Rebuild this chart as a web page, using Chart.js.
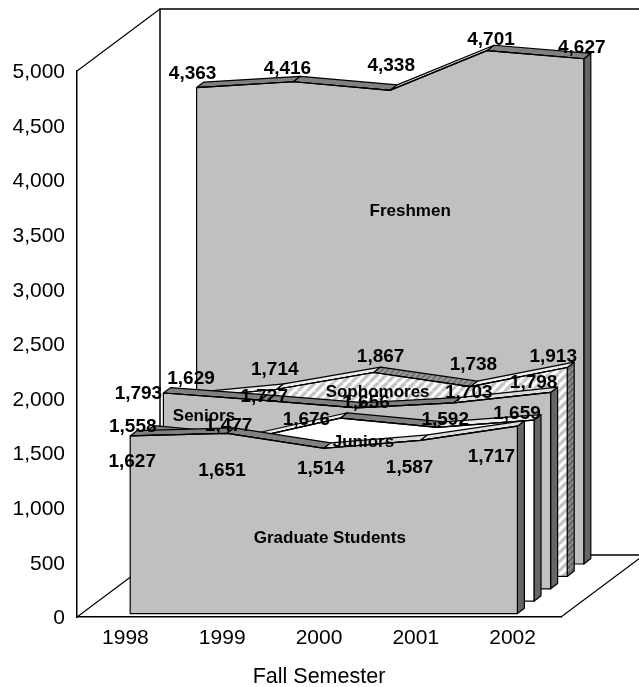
<!DOCTYPE html>
<html>
<head>
<meta charset="utf-8">
<title>Fall enrollment</title>
<style>
  html, body { margin: 0; padding: 0; background: #fff; }
  canvas { display: block; }
</style>
<script src="https://cdn.jsdelivr.net/npm/chart.js@4"></script>
</head>
<body>
<canvas id="grafico" width="639" height="687"></canvas>
<script>
const categories = ['1998', '1999', '2000', '2001', '2002'];

// front slab first, Chart.js paints index 0 last
const seriesNames = ['Graduate Students', 'Juniors', 'Seniors', 'Sophomores', 'Freshmen'];
const graduate = [1627, 1651, 1514, 1587, 1717];
const juniors = [1558, 1477, 1676, 1592, 1659];
const seniors = [1793, 1727, 1656, 1703, 1798];
const sophomores = [1629, 1714, 1867, 1738, 1913];
const freshmen = [4363, 4416, 4338, 4701, 4627];
const yTicks = [0, 500, 1000, 1500, 2000, 2500, 3000, 3500, 4000, 4500, 5000];

// 3D look: floor depth, one slot per series, slab thickness inside the slot
const DEPTH_X = 83, DEPTH_Y = 62;
const SLOT_X = DEPTH_X / 5, SLOT_Y = DEPTH_Y / 5;
const SLAB_X = 7, SLAB_Y = 5.4;

// label placement in the original is irregular, nudges from each data point
const valueNudges = [
  [[2, 26], [-5, 37], [-3, 20], [-11, 27], [-26, 31]],
  [[-14, -4], [-15, -14], [-34, 2], [8, -8], [-17, -6]],
  [[-25, 1], [4, -3], [9, -5], [15, -10], [-17, -10]],
  [[11, -20], [-2, -19], [7, -16], [3, -22], [-14, -11]],
  [[-4, -14], [-6, -13], [1, -25], [4, -11], [-2, -11]]
];
const nameNudges = [[6, 90], [23, 24], [-153, 8], [4, 20], [20, 121]];

function hatch(back, stripe, size) {
  const c = document.createElement('canvas');
  c.width = c.height = size;
  const g = c.getContext('2d');
  g.fillStyle = back;
  g.fillRect(0, 0, size, size);
  g.strokeStyle = stripe;
  g.lineWidth = size * 0.36;
  [-size, 0, size].forEach(s => {
    g.beginPath();
    g.moveTo(s, size);
    g.lineTo(s + size, 0);
    g.stroke();
  });
  return g.createPattern(c, 'repeat');
}

const ctx = document.getElementById('grafico').getContext('2d');

const faces = [
  { front: '#c0c0c0', fall: '#808080', rise: '#dcdcdc', side: '#666666' },
  { front: '#ffffff', fall: '#808080', rise: '#ececec', side: '#666666' },
  { front: '#c0c0c0', fall: '#808080', rise: '#dcdcdc', side: '#666666' },
  { front: hatch('#ffffff', '#c0c0c0', 9), fall: hatch('#a0a0a0', '#6a6a6a', 6), rise: '#ececec', side: hatch('#909090', '#5c5c5c', 6) },
  { front: '#c0c0c0', fall: '#808080', rise: '#dcdcdc', side: '#666666' }
];

function slotOffset(i) {
  return [SLOT_X * i + 4.8, -(SLOT_Y * i + 3.4)];
}

function poly(c, pts, fill) {
  c.beginPath();
  pts.forEach((p, n) => n ? c.lineTo(p[0], p[1]) : c.moveTo(p[0], p[1]));
  c.closePath();
  c.fillStyle = fill;
  c.fill();
  c.stroke();
}

const slabs3d = {
  id: 'slabs3d',
  // tick labels sit a little under the tick in the original
  beforeDraw(chart) {
    chart.scales.y.getLabelItems(chart.chartArea).forEach(item => { item.textOffset = 1.5; });
  },
  // back wall and floor lines
  beforeDatasetsDraw(chart) {
    const c = chart.ctx, a = chart.chartArea;
    c.save();
    c.strokeStyle = '#000';
    c.lineWidth = 1.1;
    c.beginPath();
    c.moveTo(a.left, a.top);
    c.lineTo(a.left + DEPTH_X, a.top - DEPTH_Y);
    c.moveTo(a.left, a.bottom);
    c.lineTo(a.left + DEPTH_X, a.bottom - DEPTH_Y);
    c.moveTo(a.right, a.bottom);
    c.lineTo(a.right + DEPTH_X, a.bottom - DEPTH_Y);
    c.stroke();
    c.lineWidth = 1.5;
    c.beginPath();
    c.moveTo(a.right + DEPTH_X, a.top - DEPTH_Y);
    c.lineTo(a.left + DEPTH_X, a.top - DEPTH_Y);
    c.lineTo(a.left + DEPTH_X, a.bottom - DEPTH_Y);
    c.lineTo(a.right + DEPTH_X, a.bottom - DEPTH_Y);
    c.stroke();
    c.restore();
  },
  // shift the series into its slot, paint faces, library then strokes the line on top
  beforeDatasetDraw(chart, args) {
    const c = chart.ctx, i = args.index, f = faces[i];
    const pts = chart.getDatasetMeta(i).data;
    const vals = chart.data.datasets[i].data;
    const base = chart.scales.y.getPixelForValue(0);
    const off = slotOffset(i);
    const last = pts[pts.length - 1];
    c.save();
    c.translate(off[0], off[1]);
    c.strokeStyle = '#000';
    c.lineWidth = 1.2;
    c.lineJoin = 'round';
    poly(c, [[last.x, last.y], [last.x + SLAB_X, last.y - SLAB_Y], [last.x + SLAB_X, base - SLAB_Y], [last.x, base]], f.side);
    for (let k = 0; k < pts.length - 1; k++) {
      const p = pts[k], q = pts[k + 1];
      const fill = vals[k + 1] - vals[k] > 60 ? f.rise : f.fall;
      poly(c, [[p.x, p.y], [p.x + SLAB_X, p.y - SLAB_Y], [q.x + SLAB_X, q.y - SLAB_Y], [q.x, q.y]], fill);
    }
    const front = pts.map(p => [p.x, p.y]);
    front.push([last.x, base], [pts[0].x, base]);
    poly(c, front, f.front);
  },
  afterDatasetDraw(chart) {
    chart.ctx.restore();
  },
  afterDatasetsDraw(chart) {
    const c = chart.ctx;
    c.save();
    c.fillStyle = '#000';
    c.textAlign = 'center';
    c.textBaseline = 'middle';
    chart.data.datasets.forEach((ds, i) => {
      const pts = chart.getDatasetMeta(i).data;
      const off = slotOffset(i);
      c.font = 'bold 19px "Liberation Sans", Arial, sans-serif';
      ds.data.forEach((v, k) => {
        const n = valueNudges[i][k];
        c.fillText(v.toLocaleString('en-US'), pts[k].x + off[0] + n[0], pts[k].y + off[1] + n[1]);
      });
      c.font = 'bold 17px "Liberation Sans", Arial, sans-serif';
      const n = nameNudges[i];
      c.fillText(ds.label, pts[2].x + off[0] + n[0], pts[2].y + off[1] + n[1]);
    });
    c.restore();
  }
};

const serieValues = [graduate, juniors, seniors, sophomores, freshmen];

new Chart(ctx, {
  type: 'line',
  data: {
    labels: categories,
    datasets: seriesNames.map((name, i) => ({
      label: name,
      data: serieValues[i],
      borderColor: '#000',
      borderWidth: 1.2,
      pointRadius: 0,
      tension: 0,
      fill: false,
      clip: false
    }))
  },
  options: {
    responsive: false,
    animation: false,
    layout: { padding: { top: 71, right: 78, left: 0, bottom: 0 } },
    plugins: {
      legend: { display: false },
      tooltip: { enabled: false }
    },
    scales: {
      x: {
        offset: true,
        afterFit(scale) { scale.height = 70; },
        grid: { display: false, drawTicks: false, offset: true },
        border: { display: true, color: '#000', width: 1.5 },
        ticks: {
          color: '#000',
          padding: 9,
          maxRotation: 0,
          font: { family: '"Liberation Sans", Arial, sans-serif', size: 21 }
        },
        title: {
          display: true,
          text: 'Fall Semester',
          color: '#000',
          font: { family: '"Liberation Sans", Arial, sans-serif', size: 21.5 },
          padding: { top: 12, bottom: -3 }
        }
      },
      y: {
        afterFit(scale) { scale.width = 77; },
        min: 0,
        max: 5000,
        afterBuildTicks(scale) { scale.ticks = yTicks.map(v => ({ value: v })); },
        grid: { display: false, drawTicks: false },
        border: { display: true, color: '#000', width: 1.5 },
        ticks: {
          color: '#000',
          padding: 12,
          font: { family: '"Liberation Sans", Arial, sans-serif', size: 21 },
          callback: v => v.toLocaleString('en-US')
        }
      }
    }
  },
  plugins: [slabs3d]
});
</script>
</body>
</html>
